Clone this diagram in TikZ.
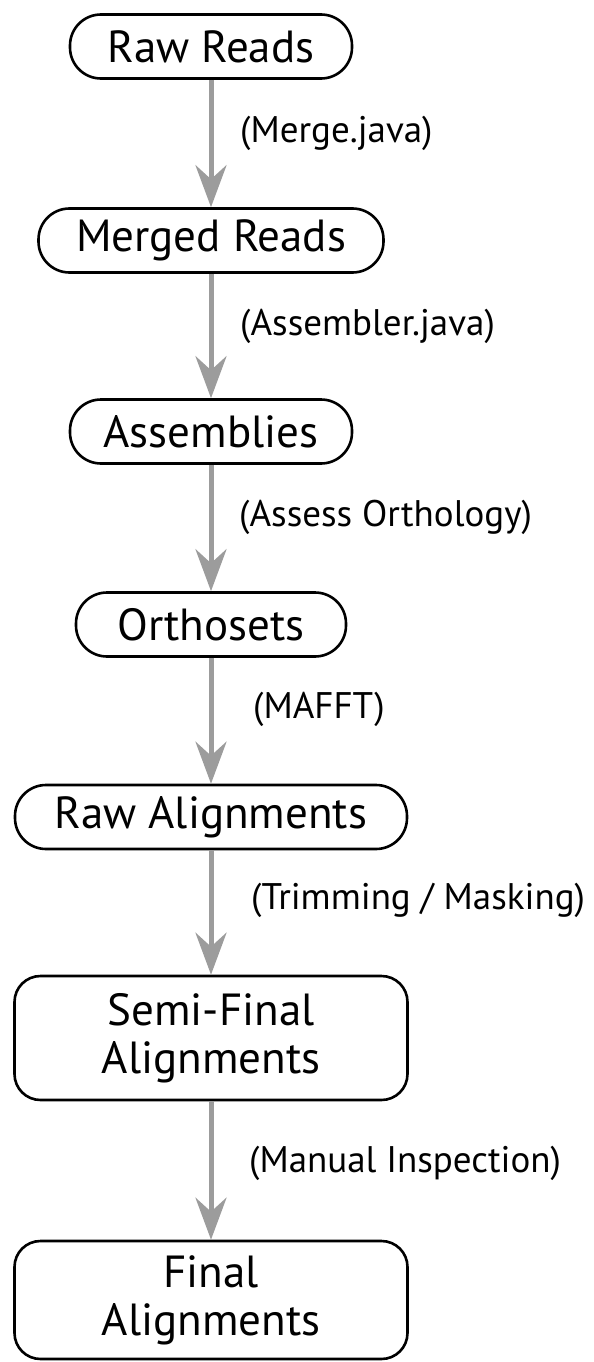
\documentclass[tikz,border=0pt]{standalone}
\usepackage{fontspec}
\setmainfont{PT Sans}
\usepackage{tikz}
\usetikzlibrary{positioning,arrows.meta,shapes}
\tikzset {
    style A/.style={
        draw=black,
        line width=2.6pt,
        fill=white,
        rectangle, % pill shaped step
        rounded corners=31pt,
        minimum height=64pt,
        inner sep=0pt,
        align=center,
        font=\fontsize{45}{48}\selectfont,
    },
    style B/.style={
        draw=black,
        line width=2.6pt,
        fill=white,
        rectangle, % Set the shape as a rectangle
        rounded corners=26pt,
        minimum width=393pt,
        inner sep=0pt,
        align=center,
        font=\fontsize{45}{48}\selectfont,
    },
    style C/.style={
        anchor=west,
        inner sep=0pt,
        font=\fontsize{37}{40}\selectfont,
    },
}
\begin{document}
\begin{tikzpicture}
        [x=1pt, y=-1pt, >={Stealth[length=42pt, width=31pt, inset=14pt]},
        flow/.style={draw=gray!78, fill=gray!78, line width=5pt, ->}]

        \useasboundingbox (0,0) rectangle (594,1362);

        \node[style A, minimum width=282pt] at (211,46.5) (rawreads) {Raw Reads};
        \node[style A, minimum width=345pt] at (211,240.5) (mergedreads) {Merged Reads};
        \node[style A, minimum width=282pt] at (211,431.5) (assemblies) {Assemblies};
        \node[style A, minimum width=270pt] at (211,624.5) (orthosets) {Orthosets};
        \node[style A, minimum width=392pt] at (211,817) (rawalign) {Raw Alignments};
        \node[style B, minimum height=124pt] at (211,1038) (semifinal) {Semi-Final\\Alignments};
        \node[style B, minimum height=118pt] at (211,1300) (final) {Final\\Alignments};

        % tools between the steps
        \node[style C] at (240,133) (merge) {(Merge.java)};
        \node[style C] at (240,326) (assembler) {(Assembler.java)};
        \node[style C] at (239,517) (assess) {(Assess Orthology)};
        \node[style C] at (253,709) (mafft) {(MAFFT)};
        \node[style C] at (251,900) (trimming) {(Trimming / Masking)};
        \node[style C] at (249,1163) (manual) {(Manual Inspection)};

        \draw[flow] (rawreads)  -- (mergedreads);
        \draw[flow] (mergedreads)  -- (assemblies);
        \draw[flow] (assemblies)  -- (orthosets);
        \draw[flow] (orthosets)  -- (rawalign);
        \draw[flow] (rawalign)  -- (semifinal);
        \draw[flow] (semifinal)  -- (final);
    \end{tikzpicture}
\end{document}
